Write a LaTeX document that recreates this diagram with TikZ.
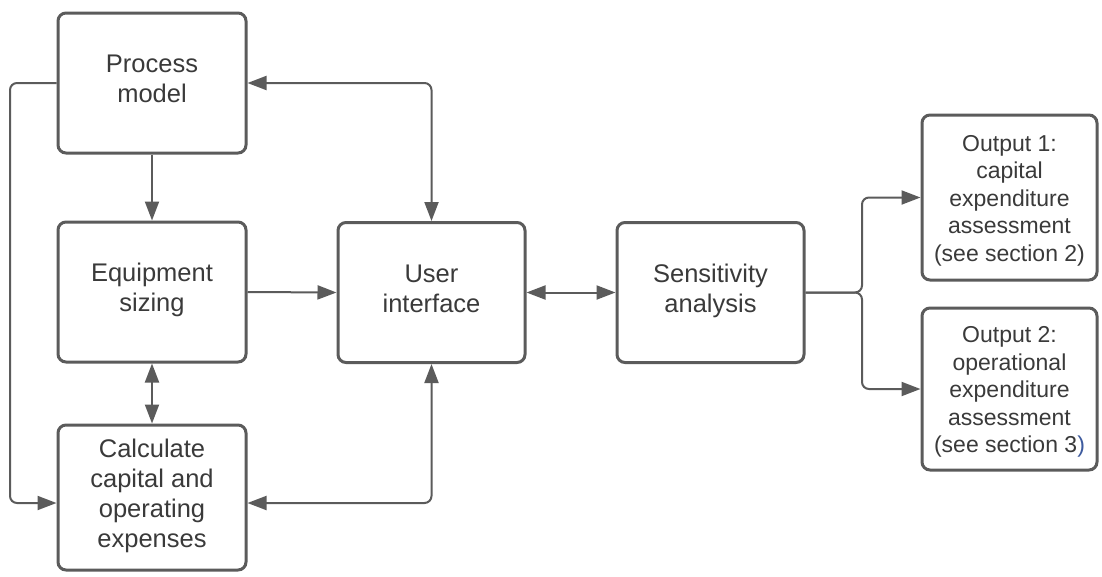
\documentclass[tikz,border=0pt]{standalone}
\usepackage{fontspec}
\setmainfont{Liberation Sans}
\usetikzlibrary{arrows.meta}
\definecolor{edge}{HTML}{5B5B5B}
\definecolor{ink}{HTML}{3A3A3A}
\definecolor{linkblue}{HTML}{3D5A9E}
% fixed line box: every text line gets the same height and depth
\newdimen\lsh \newdimen\lsd
\newcommand\ls{\vrule height\lsh depth\lsd width0pt\relax}
\begin{document}
\begin{tikzpicture}[x=1pt,y=-1pt,
  tip/.tip={Triangle[length=19pt,width=14pt]},
  box/.style={draw=edge, line width=3pt, rounded corners=8pt, fill=white,
    text=ink, align=center, inner sep=0pt,
    font=\fontsize{25.5}{30}\selectfont,
    execute at begin node={\lsh=19.5pt\lsd=10.5pt}},
  outbox/.style={box, font=\fontsize{23}{27.5}\selectfont,
    execute at begin node={\lsh=22.5pt\lsd=5pt}},
  conn/.style={draw=edge, line width=2pt, rounded corners=7pt, -tip},
  both/.style={conn, tip-tip}]
\useasboundingbox (0,0) rectangle (1102,576);

% process blocks
\node[box, minimum width=188pt, minimum height=140pt] (pm) at (152,83)
  {\ls Process\\\ls model};
\node[box, minimum width=188pt, minimum height=140pt] (eq) at (152,292)
  {\ls Equipment\\\ls sizing};
\node[box, minimum width=188pt, minimum height=145pt] (calc) at (152,497.5)
  {\ls Calculate\\\ls capital and\\\ls operating\\\ls expenses};
\node[box, minimum width=187pt, minimum height=140pt] (ui) at (431.5,292.5)
  {\ls User\\\ls interface};
\node[box, minimum width=187pt, minimum height=140pt] (sa) at (710.5,292.5)
  {\ls Sensitivity\\\ls analysis};
\node[outbox, minimum width=175pt, minimum height=165pt] (o1) at (1009.5,197.5)
  {\ls Output 1:\\\ls capital\\\ls expenditure\\\ls assessment\\\ls (see section 2)};
\node[outbox, minimum width=175pt, minimum height=162pt] (o2) at (1009.5,389)
  {\ls Output 2:\\\ls operational\\\ls expenditure\\\ls assessment\\\ls (see section 3\textcolor{linkblue}{)}};

% helper points
\coordinate (loopTop) at (10,83);
\coordinate (loopBot) at (10,503);
\coordinate (calcIn) at ([yshift=-5.5pt]calc.west);
\coordinate (calcOut) at ([yshift=-5.5pt]calc.east);
\coordinate (split) at (862,292.5);

% connectors
\draw[conn] (pm.south) -- (eq.north);
\draw[both] (eq.south) -- (calc.north);
\draw[conn] (eq.east) -- (ui.west);
\draw[both] (pm.east) -| (ui.north);
\draw[both] (calcOut) -| (ui.south);
\draw[both] (ui.east) -- (sa.west);
\draw[conn] (pm.west) -- (loopTop) -- (loopBot) -- (calcIn);
\draw[conn] (sa.east) -- (split) |- (o1.west);
\draw[conn] (sa.east) -- (split) |- (o2.west);
\end{tikzpicture}
\end{document}
